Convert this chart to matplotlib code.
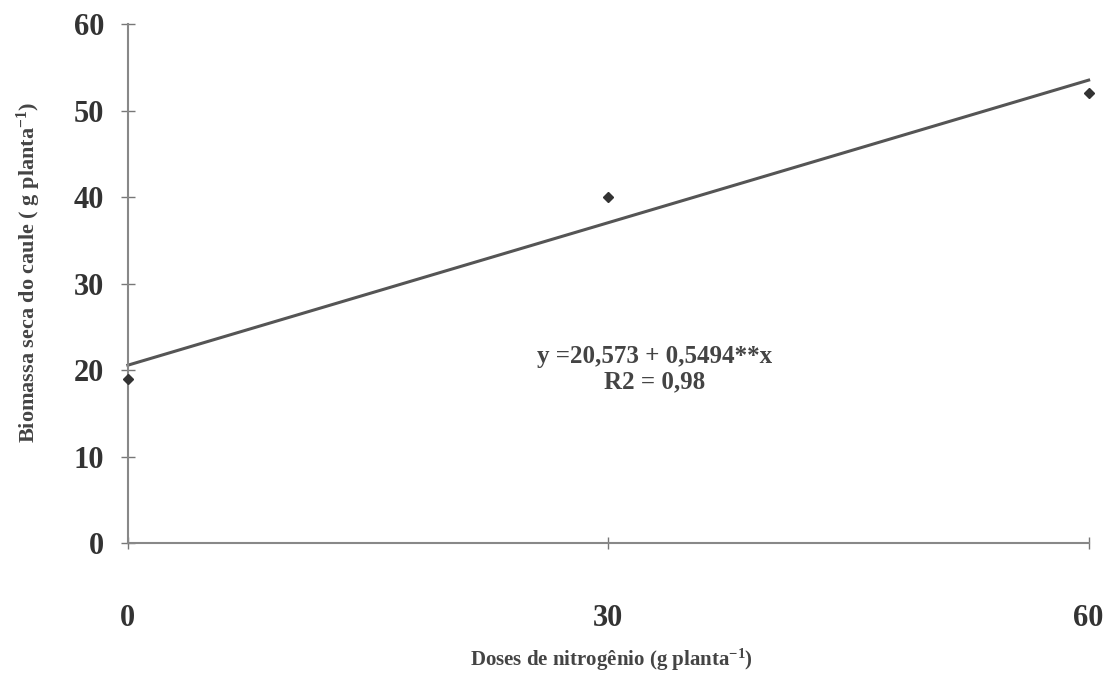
import matplotlib
matplotlib.use("Agg")
import matplotlib.pyplot as plt
import numpy as np

doses = [0, 30, 60]
biomassa = [19.0, 40.0, 52.1]
intercept = 20.573
slope = 0.5494
x_ticks = [0, 30, 60]
y_ticks = [0, 10, 20, 30, 40, 50, 60]

plt.rcParams['font.family'] = ['Liberation Serif', 'DejaVu Serif']
plt.rcParams['mathtext.fontset'] = 'custom'
plt.rcParams['mathtext.rm'] = 'Liberation Serif:bold'
plt.rcParams['mathtext.it'] = 'Liberation Serif:bold'
plt.rcParams['mathtext.bf'] = 'Liberation Serif:bold'

fig = plt.figure(figsize=(11.12, 6.73), dpi=100)
ax = fig.add_axes([0.115, 0.193, 0.864, 0.771])

xf = np.array([min(doses), max(doses)])
ax.plot(xf, intercept + slope * xf, color='#555555', lw=2.2, zorder=2, clip_on=False)
ax.plot(doses, biomassa, linestyle='none', marker='D', ms=5.5, color='#333333', zorder=3, clip_on=False)

ax.set_xlim(0, 60)
ax.set_ylim(0, 60)
ax.set_xticks(x_ticks)
ax.set_yticks(y_ticks)
ax.set_xticklabels([str(t) for t in x_ticks], fontsize=22, fontweight='bold', color='#333333')
ax.set_yticklabels([str(t) for t in y_ticks], fontsize=22, fontweight='bold', color='#333333')
ax.tick_params(axis='x', direction='inout', length=8, width=1, pad=40, colors='#777777', labelcolor='#333333')
ax.tick_params(axis='y', direction='inout', length=10, width=1, pad=12, colors='#777777', labelcolor='#333333')

for s in ['top', 'right']:
    ax.spines[s].set_visible(False)
for s in ['left', 'bottom']:
    ax.spines[s].set_color('#888888')
    ax.spines[s].set_linewidth(1.5)

ax.text(0.548, 0.335, 'y =20,573 + 0,5494**x\nR2 = 0,98', transform=ax.transAxes,
        ha='center', va='center', fontsize=18, fontweight='bold', color='#444444',
        linespacing=1.1)

fig.text(0.026, 0.595, 'Biomassa seca do caule ( g planta$^{-1}$)', rotation=90,
         ha='center', va='center', fontsize=16, fontweight='bold', color='#444444')
fig.text(0.55, 0.02, 'Doses de nitrogênio (g planta$^{-1}$)', ha='center', va='center',
         fontsize=15, fontweight='bold', color='#444444')

fig.savefig('out.png', dpi=100)
